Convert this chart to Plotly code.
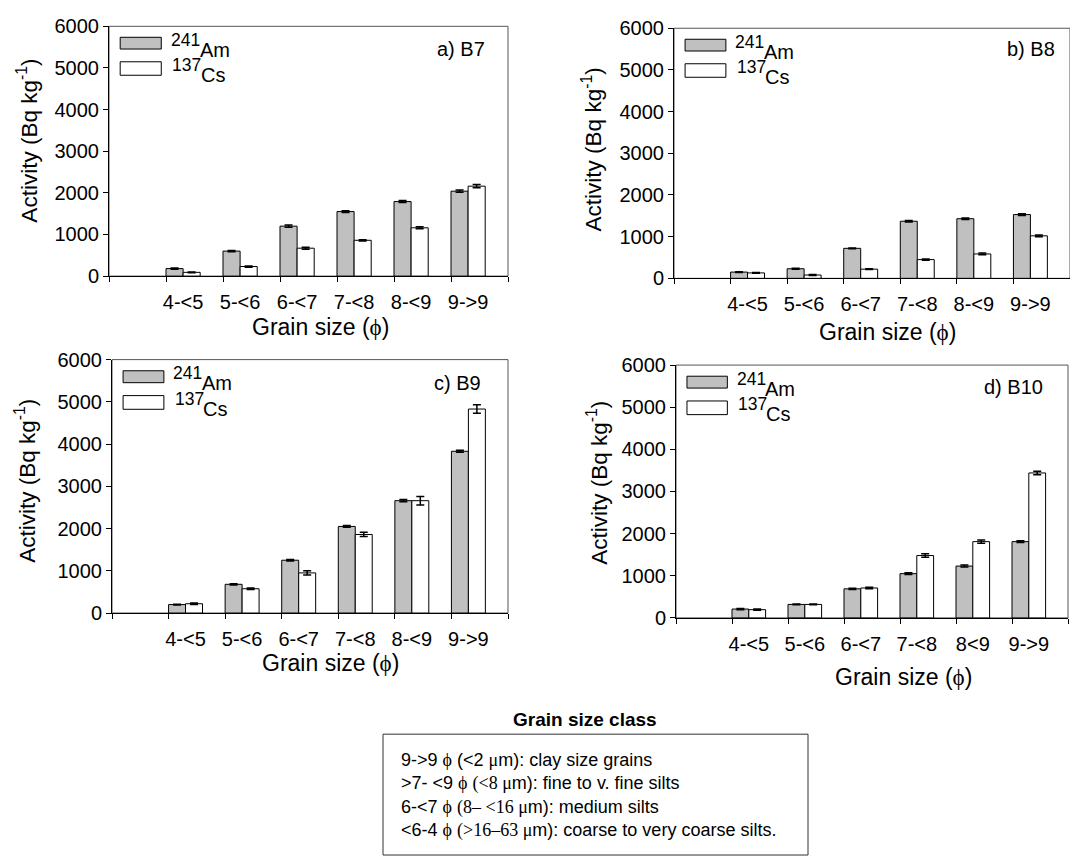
import plotly.graph_objects as go

# ---------------- data ----------------
categories = ["4-<5", "5-<6", "6-<7", "7-<8", "8-<9", "9->9"]
categories_d = ["4-<5", "5-<6", "6-<7", "7-<8", "8<9", "9->9"]

b7_am = [180, 600, 1200, 1550, 1790, 2040]
b7_cs = [90, 230, 670, 860, 1160, 2160]
b7_am_err = [15, 15, 25, 20, 25, 25]
b7_cs_err = [10, 15, 25, 15, 25, 40]

b8_am = [150, 230, 720, 1370, 1430, 1530]
b8_cs = [130, 80, 220, 450, 585, 1020]
b8_am_err = [10, 10, 10, 20, 20, 20]
b8_cs_err = [10, 10, 10, 15, 20, 20]

b9_am = [200, 680, 1250, 2050, 2660, 3830]
b9_cs = [220, 575, 950, 1860, 2660, 4830]
b9_am_err = [10, 15, 20, 20, 25, 25]
b9_cs_err = [20, 20, 50, 50, 100, 100]

b10_am = [210, 320, 690, 1050, 1230, 1810]
b10_cs = [195, 320, 710, 1480, 1810, 3440]
b10_am_err = [15, 10, 15, 20, 25, 20]
b10_cs_err = [15, 10, 20, 40, 40, 40]

panel_labels = ["a) B7", "b) B8", "c) B9", "d) B10"]

W, H = 1070, 867
FONT = "Arial, Liberation Sans, sans-serif"
SERIF = "Liberation Serif"

def sp(t):
    return f"<span style='font-family:{SERIF}'>{t}</span>"

PHI = sp("\u03d5")
MU = sp("\u03bc")

# panel geometry in page pixels: (left, right, top(6000), bottom(0))
geom = [
    (109, 508, 15.7, 272.0),
    (674, 1070, 17.7, 274.3),
    (112, 508, 357.7, 617.7),
    (676, 1068, 363.3, 622.7),
]
label_pos = [(0.947, 0.91), (0.967, 0.916), (0.937, 0.908), (0.941, 0.914)]
ytitle_pos = [(27, 133), (592, 142), (25, 482), (597, 484)]
xtitle_pos = [(320, 324), (887, 329), (330, 669), (903, 683)]

panels = [
    (b7_am, b7_cs, b7_am_err, b7_cs_err, categories),
    (b8_am, b8_cs, b8_am_err, b8_cs_err, categories),
    (b9_am, b9_cs, b9_am_err, b9_cs_err, categories),
    (b10_am, b10_cs, b10_am_err, b10_cs_err, categories_d),
]

slots = list(range(1, 7))  # category slots (slot 0 left empty, as in original)
BW = 0.3

fig = go.Figure()
shapes = []
annotations = []

def txt(xref, yref, x, y, text, size, xanchor="left", yanchor="middle", **kw):
    d = dict(xref=xref, yref=yref, x=x, y=y, text=text, showarrow=False,
             xanchor=xanchor, yanchor=yanchor,
             font=dict(size=size, color="black", family=FONT))
    d.update(kw)
    return d

for i, (am, cs, am_e, cs_e, cats) in enumerate(panels):
    sfx = "" if i == 0 else str(i + 1)
    xa, ya = "x" + sfx, "y" + sfx
    fig.add_trace(go.Bar(
        x=slots, y=am, offset=0, width=BW, xaxis=xa, yaxis=ya,
        marker=dict(color="#c0c0c0", line=dict(color="black", width=1)),
        error_y=dict(type="data", array=am_e, color="black", thickness=1.5, width=4),
        showlegend=False, name="241Am"))
    fig.add_trace(go.Bar(
        x=slots, y=cs, offset=BW, width=BW, xaxis=xa, yaxis=ya,
        marker=dict(color="white", line=dict(color="black", width=1)),
        error_y=dict(type="data", array=cs_e, color="black", thickness=1.5, width=4),
        showlegend=False, name="137Cs"))

    l, r, t, b = geom[i]
    xdom = [l / W, min(r / W, 1.0)]
    ydom = [1 - b / H, 1 - t / H]
    fig.layout["xaxis" + sfx] = dict(
        domain=xdom, range=[0, 7], anchor=ya,
        tickmode="array", tickvals=[s + BW for s in slots], ticktext=cats,
        ticks="", showgrid=False, zeroline=False,
        showline=True, linecolor="black", linewidth=1,
        minor=dict(tickmode="array", tickvals=list(range(0, 8)), ticks="outside",
                   ticklen=5, tickcolor="black", tickwidth=1, showgrid=False),
        tickfont=dict(size=20, color="black", family=FONT),
        ticklabelstandoff=8,
    )
    fig.layout["yaxis" + sfx] = dict(
        domain=ydom, range=[0, 6000], anchor=xa,
        tickmode="linear", tick0=0, dtick=1000,
        ticks="outside", ticklen=5, tickcolor="black",
        showgrid=False, zeroline=False,
        showline=True, linecolor="black", linewidth=1,
        tickfont=dict(size=20, color="black", family=FONT),
    )
    xd, yd = xa + " domain", ya + " domain"
    # frame
    shapes.append(dict(type="rect", xref=xd, yref=yd, x0=0, x1=1, y0=0, y1=1,
                       line=dict(color="#555555", width=1), layer="below"))
    # custom legend swatches
    shapes.append(dict(type="rect", xref=xd, yref=yd, x0=0.028, x1=0.131, y0=0.909, y1=0.956,
                       fillcolor="#c0c0c0", line=dict(color="black", width=1)))
    shapes.append(dict(type="rect", xref=xd, yref=yd, x0=0.028, x1=0.131, y0=0.804, y1=0.858,
                       fillcolor="white", line=dict(color="black", width=1)))
    # legend texts: raised mass number, lowered element symbol
    annotations.append(txt(xd, yd, 0.150, 0.946, "241", 17.5))
    annotations.append(txt(xd, yd, 0.222, 0.906, "Am", 20))
    annotations.append(txt(xd, yd, 0.153, 0.846, "137", 17.5))
    annotations.append(txt(xd, yd, 0.225, 0.806, "Cs", 20))
    lx, ly = label_pos[i]
    annotations.append(txt(xd, yd, lx, ly, panel_labels[i], 20, xanchor="right"))
    tx, ty = ytitle_pos[i]
    annotations.append(txt("paper", "paper", tx / W, 1 - ty / H,
                           "Activity (Bq kg<sup>-1</sup>)", 22.5, xanchor="center",
                           textangle=-90))
    gx, gy = xtitle_pos[i]
    annotations.append(txt("paper", "paper", gx / W, 1 - gy / H,
                           f"Grain size ({PHI})", 23, xanchor="center"))

# grain size class box
box_lines = [
    f"9-&gt;9 {PHI} (&lt;2 {MU}m): clay size grains",
    f"&gt;7- &lt;9 {PHI} {sp('(&lt;8 ')}{MU}m): fine to v. fine silts",
    f"6-&lt;7 {PHI} {sp('(8\u2013 &lt;16 ')}{MU}m): medium silts",
    f"&lt;6-4 {PHI} {sp('(&gt;16\u201363 ')}{MU}m): coarse to very coarse silts.",
]
shapes.append(dict(type="rect", xref="paper", yref="paper",
                   x0=383 / W, x1=808 / W, y0=1 - 866 / H, y1=1 - 742 / H,
                   line=dict(color="#333333", width=1)))
annotations.append(txt("paper", "paper", 585 / W, 1 - 727 / H,
                       "<b>Grain size class</b>", 19, xanchor="center"))
annotations.append(txt("paper", "paper", 399 / W, 1 - 756 / H,
                       "<br>".join(box_lines), 18, yanchor="top", align="left"))

fig.update_layout(
    width=W, height=H, margin=dict(l=0, r=0, t=0, b=0),
    paper_bgcolor="white", plot_bgcolor="white",
    barmode="overlay", shapes=shapes, annotations=annotations,
    font=dict(family=FONT, color="black"),
)

fig.write_html("out.html")
